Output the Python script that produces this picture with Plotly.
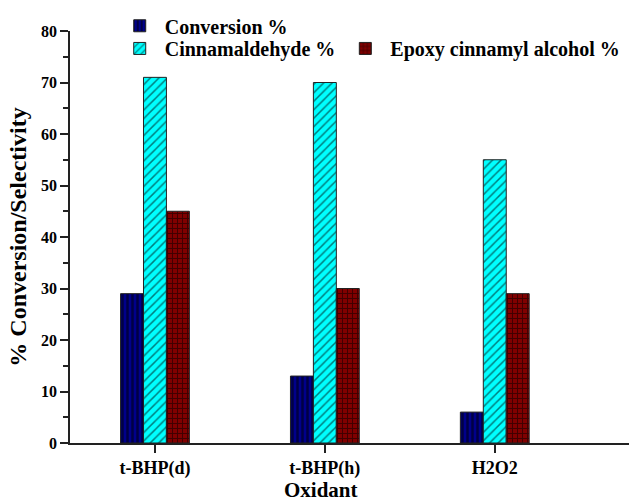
import plotly.graph_objects as go

categories = ["t-BHP(d)", "t-BHP(h)", "H2O2"]
conversion = [29, 13, 6]
cinnamaldehyde = [71, 70, 55]
epoxy = [45, 30, 29]

FONT = "Liberation Serif"

fig = go.Figure()
fig.add_trace(go.Bar(
    x=categories, y=conversion, name="Conversion %", legend="legend", showlegend=True,
    marker=dict(color="#000080", line=dict(color="#222222", width=1),
                pattern=dict(shape="|", fgcolor="#000000", bgcolor="#00008B", size=5, solidity=0.5)),
))
fig.add_trace(go.Bar(
    x=categories, y=cinnamaldehyde, name="Cinnamaldehyde %", legend="legend2", showlegend=True,
    marker=dict(color="#00FFFF", line=dict(color="#222222", width=1),
                pattern=dict(shape="/", fgcolor="#000000", bgcolor="#00FFFF", size=6, solidity=0.25)),
))
fig.add_trace(go.Bar(
    x=categories, y=epoxy, name="Epoxy cinnamyl alcohol %", legend="legend2", showlegend=True,
    marker=dict(color="#800000", line=dict(color="#222222", width=1),
                pattern=dict(shape="+", fgcolor="#000000", bgcolor="#800000", size=5, solidity=0.35)),
))

legfont = dict(family=FONT, size=20, color="black", weight="bold")

fig.update_layout(
    width=629, height=503,
    margin=dict(l=70, r=0, t=31, b=60),
    plot_bgcolor="white", paper_bgcolor="white",
    barmode="group", bargap=0.595, bargroupgap=0,
    showlegend=True,
    font=dict(family=FONT, size=16, color="black"),
    legend=dict(x=0.08, y=1.06, xanchor="left", yanchor="top", orientation="h",
                font=legfont, bgcolor="rgba(0,0,0,0)",
                itemwidth=40, traceorder="normal"),
    legend2=dict(x=0.08, y=1.005, xanchor="left", yanchor="top", orientation="h",
                 font=legfont, bgcolor="rgba(0,0,0,0)",
                 itemwidth=40, traceorder="normal"),
    xaxis=dict(
        range=[-0.5, 2.79], showline=True, linecolor="#222222", linewidth=1.5,
        ticks="outside", ticklen=8, tickcolor="#222222", tickwidth=1.5,
        tickfont=dict(family=FONT, size=18, color="black", weight="bold"),
        showgrid=False, zeroline=False, automargin=False,
    ),
    yaxis=dict(
        range=[0, 80], dtick=10, showline=True, linecolor="#222222", linewidth=1.5,
        ticks="outside", ticklen=8, tickcolor="#222222", tickwidth=1.5,
        minor=dict(dtick=5, ticks="outside", ticklen=5, tickcolor="#222222", tickwidth=1.5),
        tickfont=dict(family=FONT, size=16, color="black", weight="bold"),
        title=dict(text="% Conversion/Selectivity", font=dict(family=FONT, size=24, color="black", weight="bold"), standoff=8),
        showgrid=False, zeroline=False, automargin=False,
    ),
    annotations=[dict(
        text="Oxidant", xref="paper", yref="paper", x=0.449, y=-0.113,
        xanchor="center", yanchor="middle", showarrow=False,
        font=dict(family=FONT, size=21, color="black", weight="bold"),
    )],
)

fig.write_html("out.html")
